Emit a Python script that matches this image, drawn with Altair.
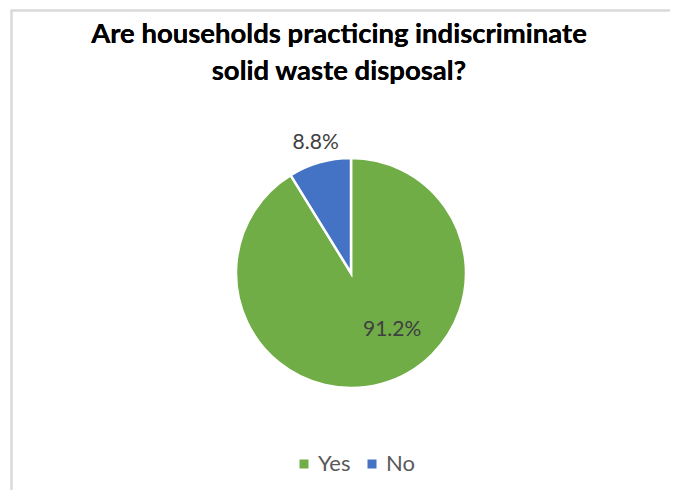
import altair as alt
import pandas as pd

categories = ["Yes", "No"]
values = [91.2, 8.8]
label_text = ["91.2%", "8.8%"]
colors = ["#70AD47", "#4472C4"]
title_lines = ["Are households practicing indiscriminate", "solid waste disposal?"]

df = pd.DataFrame({
    "answer": categories,
    "share": values,
    "label": label_text,
    "order": list(range(len(categories))),
})

CX, CY, R = 343, 265, 115

pie = alt.Chart(df).mark_arc(outerRadius=R, stroke="white", strokeWidth=2.5).encode(
    theta=alt.Theta("share:Q", stack=True),
    order=alt.Order("order:Q"),
    x=alt.value(CX),
    y=alt.value(CY),
    color=alt.Color(
        "answer:N",
        scale=alt.Scale(domain=categories, range=colors),
        sort=categories,
        legend=alt.Legend(
            title=None, orient="none", legendX=285, legendY=445,
            direction="horizontal", symbolType="square", symbolSize=81,
            labelFontSize=22, labelFont="Lato", labelColor="#595959",
            labelOffset=3, columnPadding=10, symbolStrokeWidth=0,
        ),
    ),
)

# stacked mid-angles computed on the full data, then split per label
lab_base = alt.Chart(df).transform_window(
    cum="sum(share)", sort=[alt.SortField("order")]
).transform_joinaggregate(total="sum(share)").transform_calculate(
    mid="2*PI*(datum.cum - datum.share/2)/datum.total"
).encode(
    theta=alt.Theta("mid:Q", scale=None),
    x=alt.value(CX),
    y=alt.value(CY),
    text="label:N",
)

lab_yes = lab_base.transform_filter(alt.datum.answer == "Yes").mark_text(
    radius=70, dx=22, dy=-10, font="Lato", fontSize=21, color="#404040",
    align="center", baseline="middle",
)

lab_no = lab_base.transform_filter(alt.datum.answer == "No").mark_text(
    radius=133, dx=1, dy=-2, font="Lato", fontSize=21, color="#404040",
    align="center", baseline="middle",
)

title_style = dict(font="Lato", fontSize=27.5, fontWeight="bold", color="#000000",
                   align="center", baseline="alphabetic")
t1 = alt.Chart(df).mark_text(**title_style).encode(
    x=alt.value(331), y=alt.value(35), text=alt.value(title_lines[0]))
t2 = alt.Chart(df).mark_text(**title_style).encode(
    x=alt.value(331), y=alt.value(72), text=alt.value(title_lines[1]))

border_v = alt.Chart(df).mark_rule(color="#D9D9D9", strokeWidth=2).encode(
    x=alt.value(3.5), y=alt.value(1.5), y2=alt.value(482))
border_h = alt.Chart(df).mark_rule(color="#D9D9D9", strokeWidth=2).encode(
    y=alt.value(2.5), x=alt.value(3.5), x2=alt.value(662))

chart = alt.layer(border_v, border_h, pie, lab_yes, lab_no, t1, t2).properties(
    width=662, height=482, padding=0,
    autosize=alt.AutoSizeParams(type="none"),
).configure_view(stroke=None)

chart.save("out.html", embed_options={"renderer": "svg", "actions": False})
